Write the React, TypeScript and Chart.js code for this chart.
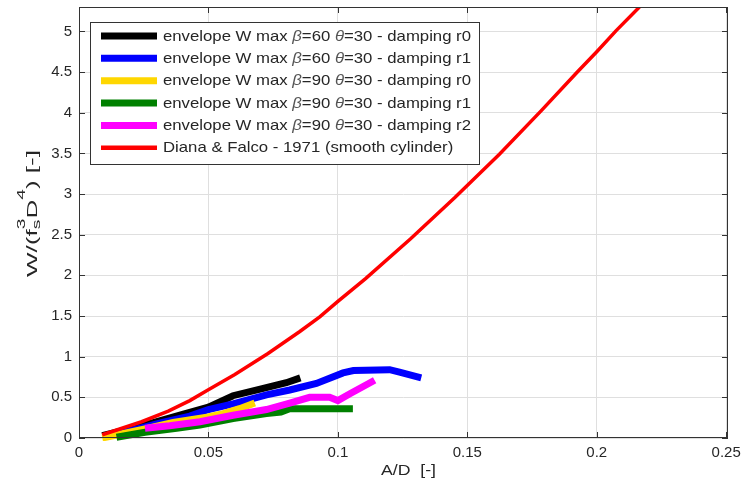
import React, { useEffect, useRef } from "react";
import { Chart, registerables } from "chart.js";

Chart.register(...registerables);

// ---------- data ----------
const X_MAX = 0.2507;
const Y_MAX = 5.3;
const X_STEP = 0.05;
const Y_STEP = 0.5;

const blackAD = [0.009, 0.018, 0.0287, 0.04, 0.05, 0.0595, 0.07, 0.0801, 0.0855];
const blackW = [0.03, 0.1, 0.19, 0.29, 0.38, 0.52, 0.6, 0.68, 0.74];

const blueAD = [0.012, 0.02, 0.0319, 0.0428, 0.05, 0.0595, 0.0724, 0.0814, 0.0917, 0.102, 0.106, 0.12, 0.1238, 0.1322];
const blueW = [0.04, 0.09, 0.19, 0.27, 0.35, 0.42, 0.53, 0.59, 0.67, 0.8, 0.83, 0.84, 0.81, 0.74];

const yellowAD = [0.009, 0.015, 0.025, 0.0364, 0.05, 0.0557, 0.062, 0.0679];
const yellowW = [0.0, 0.04, 0.11, 0.19, 0.26, 0.3, 0.36, 0.43];

const greenAD = [0.0145, 0.02, 0.0255, 0.0377, 0.0467, 0.0595, 0.0724, 0.078, 0.0814, 0.1058];
const greenW = [0.01, 0.04, 0.07, 0.12, 0.16, 0.24, 0.3, 0.32, 0.36, 0.36];

const magentaAD = [0.0255, 0.035, 0.0467, 0.0595, 0.0724, 0.0814, 0.0891, 0.0968, 0.1, 0.105, 0.1142];
const magentaW = [0.12, 0.15, 0.2, 0.28, 0.35, 0.43, 0.5, 0.5, 0.46, 0.55, 0.71];

const redAD = [0.009, 0.0242, 0.0345, 0.0428, 0.0498, 0.0602, 0.073, 0.0853, 0.093, 0.1, 0.1107, 0.1281, 0.1453, 0.1624, 0.1784, 0.1925, 0.2, 0.2075, 0.2165];
const redW = [0.04, 0.2, 0.33, 0.46, 0.59, 0.78, 1.04, 1.31, 1.49, 1.68, 1.96, 2.45, 2.96, 3.49, 4.02, 4.5, 4.75, 5.01, 5.3];

const seriesLabels = [
  "envelope W max β=60 θ=30 - damping r0",
  "envelope W max β=60 θ=30 - damping r1",
  "envelope W max β=90 θ=30 - damping r0",
  "envelope W max β=90 θ=30 - damping r1",
  "envelope W max β=90 θ=30 - damping r2",
  "Diana & Falco - 1971 (smooth cylinder)",
];
const seriesColors = ["#000000", "#0000FF", "#FFD700", "#008000", "#FF00FF", "#FF0000"];
const seriesWidths = [7, 7, 7, 7, 7, 3.5];
const legendWidths = [7, 7, 7, 7, 7, 4.5];
const seriesX = [blackAD, blueAD, yellowAD, greenAD, magentaAD, redAD];
const seriesY = [blackW, blueW, yellowW, greenW, magentaW, redW];

const xTitle = "A/D  [-]";

const FONT = '"Liberation Sans", Arial, sans-serif';
const TEXT = "#262626";

function fmtTick(v: number) {
  return String(Number(Number(v).toFixed(4)));
}

function richWidth(ctx: CanvasRenderingContext2D, text: string, size: number) {
  let w = 0;
  for (const part of text.split(/([βθ])/)) {
    if (!part) continue;
    const it = part === "β" || part === "θ";
    ctx.font = `${it ? "italic " : ""}${size}px ${FONT}`;
    w += ctx.measureText(part).width;
  }
  return w;
}

function drawRich(ctx: CanvasRenderingContext2D, text: string, x: number, y: number, size: number, sx: number) {
  ctx.save();
  ctx.translate(x, y);
  ctx.scale(sx, 1);
  let cx = 0;
  for (const part of text.split(/([βθ])/)) {
    if (!part) continue;
    const it = part === "β" || part === "θ";
    ctx.font = `${it ? "italic " : ""}${size}px ${FONT}`;
    ctx.fillStyle = it ? "#555555" : TEXT;
    ctx.fillText(part, cx, 0);
    cx += ctx.measureText(part).width;
  }
  ctx.restore();
}

const decorPlugin = {
  id: "decor",
  afterDraw(chart: any) {
    const ctx: CanvasRenderingContext2D = chart.ctx;
    const a = chart.chartArea;
    const xs = chart.scales.x;
    const ys = chart.scales.y;
    ctx.save();
    // axes box
    ctx.strokeStyle = "#333333";
    ctx.lineWidth = 1;
    ctx.strokeRect(a.left + 0.5, a.top + 0.5, a.right - a.left - 1, a.bottom - a.top - 1);
    // inward ticks
    ctx.beginPath();
    const TL = 6;
    xs.ticks.forEach((t: any) => {
      const px = Math.round(xs.getPixelForValue(t.value)) + 0.5;
      ctx.moveTo(px, a.bottom);
      ctx.lineTo(px, a.bottom - TL);
      ctx.moveTo(px, a.top);
      ctx.lineTo(px, a.top + TL);
    });
    ys.ticks.forEach((t: any) => {
      const py = Math.round(ys.getPixelForValue(t.value)) + 0.5;
      ctx.moveTo(a.left, py);
      ctx.lineTo(a.left + TL, py);
      ctx.moveTo(a.right, py);
      ctx.lineTo(a.right - TL, py);
    });
    ctx.stroke();

    // legend
    const L = { x: 90, y: 22, w: 389, h: 142 };
    ctx.fillStyle = "#FFFFFF";
    ctx.fillRect(L.x, L.y, L.w, L.h);
    ctx.strokeStyle = "#333333";
    ctx.lineWidth = 1;
    ctx.strokeRect(L.x + 0.5, L.y + 0.5, L.w, L.h);
    const size = 15;
    const textX = 163;
    const natural = richWidth(ctx, seriesLabels[0], size);
    const sx = 308 / natural;
    ctx.textBaseline = "middle";
    seriesLabels.forEach((lab, i) => {
      const cy = 36 + i * 22.35;
      ctx.strokeStyle = seriesColors[i];
      ctx.lineWidth = legendWidths[i];
      ctx.beginPath();
      ctx.moveTo(101, cy);
      ctx.lineTo(157, cy);
      ctx.stroke();
      drawRich(ctx, lab, textX, cy + 0.5, size, sx);
    });

    // x title
    ctx.fillStyle = TEXT;
    ctx.font = `15px ${FONT}`;
    ctx.textBaseline = "middle";
    ctx.textAlign = "center";
    {
      const w = ctx.measureText(xTitle).width;
      const s = 55 / w;
      ctx.save();
      ctx.translate(408.5, 471);
      ctx.scale(s, 1);
      ctx.fillText(xTitle, 0, 0);
      ctx.restore();
    }

    // y title  W/(f_s^3 D^4) [-]
    ctx.textAlign = "left";
    ctx.textBaseline = "alphabetic";
    const parts: { t: string; size: number; dy: number; stackWith?: { t: string; size: number; dy: number } }[] = [
      { t: "W/(f", size: 15, dy: 0 },
      { t: "3", size: 11, dy: -12, stackWith: { t: "s", size: 11, dy: 3 } },
      { t: "D", size: 15, dy: 0 },
      { t: "4", size: 11, dy: -12 },
      { t: ") [-]", size: 15, dy: 0 },
    ];
    let total = 0;
    const widths = parts.map((p) => {
      ctx.font = `${p.size}px ${FONT}`;
      let w = ctx.measureText(p.t).width;
      if (p.stackWith) {
        ctx.font = `${p.stackWith.size}px ${FONT}`;
        w = Math.max(w, ctx.measureText(p.stackWith.t).width);
      }
      total += w;
      return w;
    });
    const ys0 = 277;
    const ye0 = 150;
    const sy = (ys0 - ye0) / total;
    ctx.save();
    ctx.translate(37, ys0);
    ctx.rotate(-Math.PI / 2);
    ctx.scale(sy, 1);
    let cx = 0;
    parts.forEach((p, i) => {
      ctx.font = `${p.size}px ${FONT}`;
      ctx.fillText(p.t, cx, p.dy);
      if (p.stackWith) {
        ctx.font = `${p.stackWith.size}px ${FONT}`;
        ctx.fillText(p.stackWith.t, cx, p.stackWith.dy);
      }
      cx += widths[i];
    });
    ctx.restore();

    ctx.restore();
  },
};

export default function App() {
  const ref = useRef<HTMLCanvasElement | null>(null);
  useEffect(() => {
    if (!ref.current) return;
    const datasets = seriesLabels.map((label, i) => ({
      label,
      data: seriesX[i].map((x, k) => ({ x, y: seriesY[i][k] })),
      borderColor: seriesColors[i],
      backgroundColor: seriesColors[i],
      borderWidth: seriesWidths[i],
      showLine: true,
      pointRadius: 0,
      pointHoverRadius: 0,
      tension: 0,
      fill: false,
      order: seriesLabels.length - 1 - i,
      clip: { left: 0, top: 0, right: 0, bottom: 3 },
    }));
    const chart = new Chart(ref.current, {
      type: "scatter",
      data: { datasets },
      options: {
        animation: false,
        responsive: false,
        devicePixelRatio: 1,
        events: [],
        layout: { padding: { left: 0, right: 16, top: 7, bottom: 0 } },
        plugins: { legend: { display: false }, tooltip: { enabled: false } },
        scales: {
          x: {
            type: "linear",
            min: 0,
            max: X_MAX,
            ticks: {
              stepSize: X_STEP,
              includeBounds: false,
              autoSkip: false,
              maxRotation: 0,
              padding: 6,
              color: TEXT,
              font: { family: FONT, size: 15 },
              callback: (v: any) => fmtTick(v),
            },
            grid: { color: "#dfdfdf", lineWidth: 1, drawTicks: false },
            border: { display: false },
            afterFit(s: any) {
              s.height = 53;
              s.paddingLeft = 0;
              s.paddingRight = 0;
            },
          },
          y: {
            type: "linear",
            min: 0,
            max: Y_MAX,
            ticks: {
              stepSize: Y_STEP,
              includeBounds: false,
              autoSkip: false,
              padding: 7,
              color: TEXT,
              font: { family: FONT, size: 15 },
              callback: (v: any) => fmtTick(v),
            },
            grid: { color: "#dfdfdf", lineWidth: 1, drawTicks: false },
            border: { display: false },
            afterFit(s: any) {
              s.width = 79;
              s.paddingTop = 0;
              s.paddingBottom = 0;
            },
          },
        },
      },
      plugins: [decorPlugin],
    } as any);
    return () => chart.destroy();
  }, []);
  return (
    <div style={{ position: "absolute", left: 0, top: 0, width: 744, height: 491, background: "#fff" }}>
      <canvas ref={ref} width={744} height={491} style={{ display: "block", width: 744, height: 491 }} />
    </div>
  );
}
